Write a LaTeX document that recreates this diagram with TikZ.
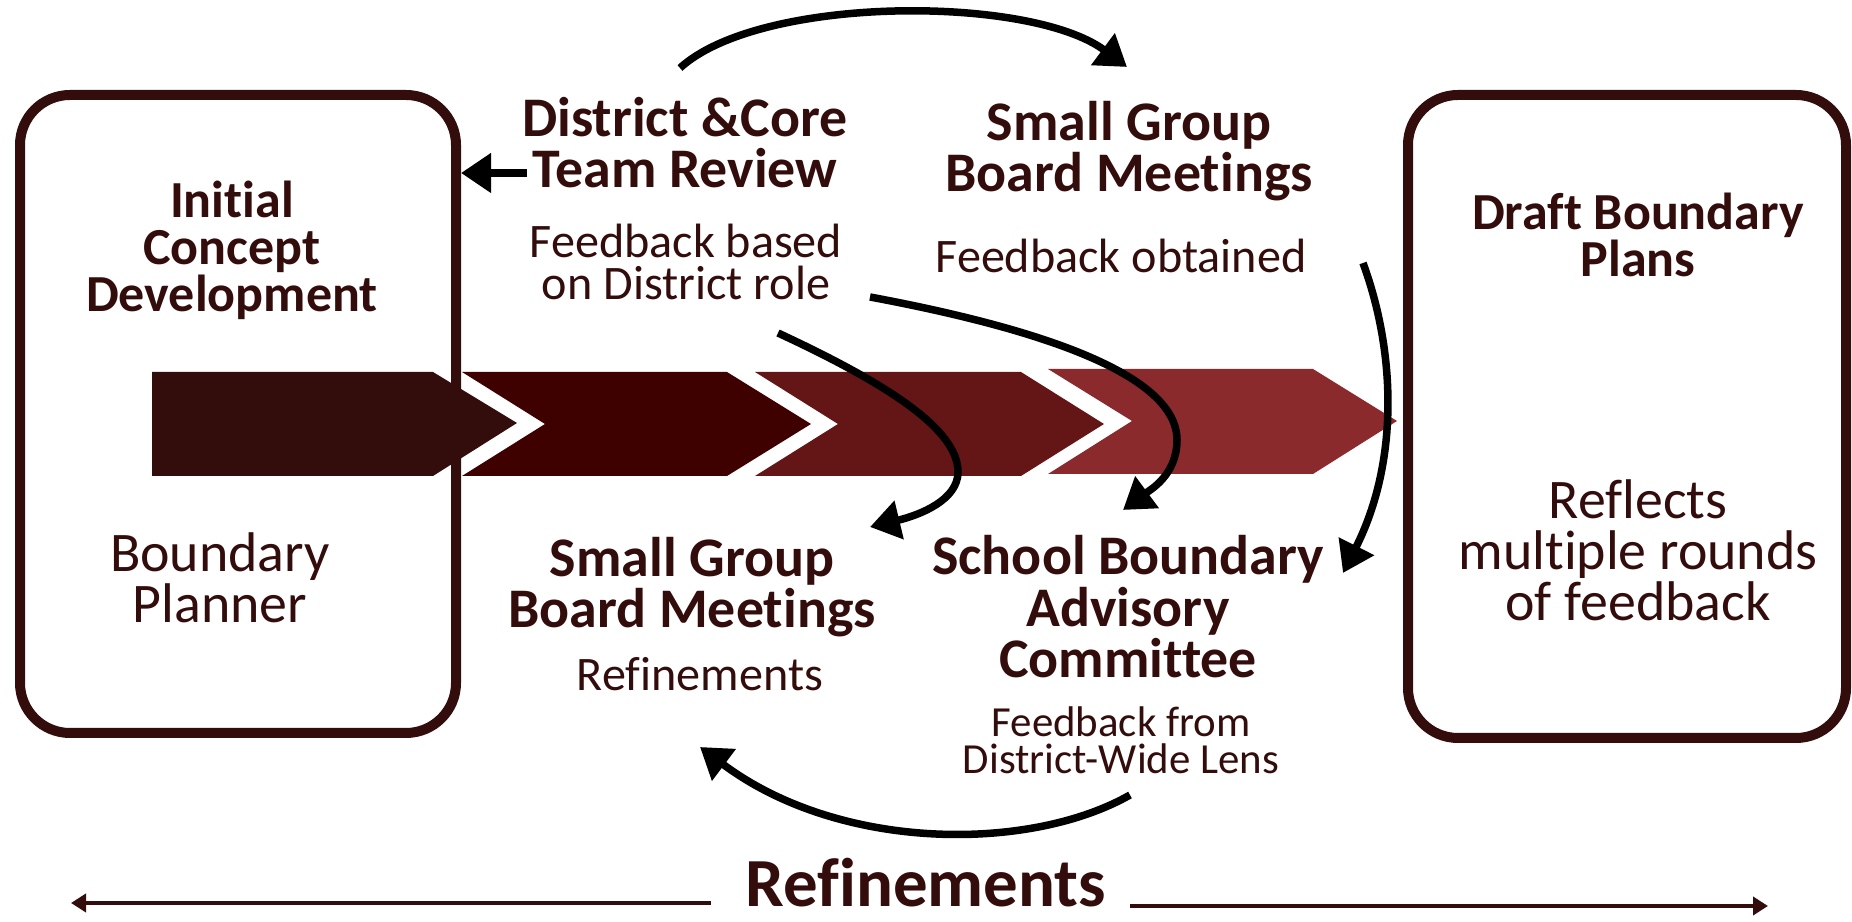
\documentclass[tikz,border=0pt]{standalone}
\usepackage{fontspec}
\setmainfont{Carlito}[Ligatures={NoCommon}]
\usetikzlibrary{arrows.meta}

\definecolor{maroondark}{HTML}{330C0C}
\definecolor{chevA}{HTML}{330C0C}
\definecolor{chevB}{HTML}{3F0000}
\definecolor{chevC}{HTML}{641616}
\definecolor{chevD}{HTML}{8A2A2C}

\begin{document}
\begin{tikzpicture}[
    sidebox/.style={draw=maroondark, line width=0.1cm, rounded corners=0.5cm, inner sep=0pt},
    head/.style={font=\bfseries\fontsize{15.9}{14.7}\selectfont, text=maroondark, align=center, inner sep=0pt, anchor=base},
    boxhead/.style={font=\bfseries\fontsize{14.8}{13.4}\selectfont, text=maroondark, align=center, inner sep=0pt, anchor=base},
    bighead/.style={font=\bfseries\fontsize{19.6}{20}\selectfont, text=maroondark, inner sep=0pt, text depth=0pt, anchor=base},
    note/.style={font=\fontsize{13.7}{12.2}\selectfont, text=maroondark, align=center, inner sep=0pt, anchor=base},
    bignote/.style={font=\fontsize{15.9}{14.6}\selectfont, text=maroondark, align=center, inner sep=0pt, anchor=base},
    smallnote/.style={font=\fontsize{12.2}{10.8}\selectfont, text=maroondark, align=center, inner sep=0pt, anchor=base},
    curvearr/.style={line width=0.075cm, black, -{Triangle[length=0.30cm,width=0.38cm]}},
    thinarr/.style={line width=0.04cm, maroondark, -{Triangle[length=0.15cm,width=0.18cm]}}
  ]
  \path[use as bounding box] (0,0) rectangle (18.52,-9.22);

  % chevron band
  \fill[chevA] (1.52,-3.72) -- (4.33,-3.72) -- (5.17,-4.23) -- (4.33,-4.76) -- (1.52,-4.76) -- cycle;
  \fill[chevB] (4.62,-3.72) -- (7.27,-3.72) -- (8.11,-4.24) -- (7.27,-4.76) -- (4.62,-4.76) -- (5.45,-4.24) -- cycle;
  \fill[chevC] (7.55,-3.72) -- (10.21,-3.72) -- (11.04,-4.24) -- (10.21,-4.76) -- (7.55,-4.76) -- (8.38,-4.24) -- cycle;
  \fill[chevD] (10.48,-3.69) -- (13.13,-3.69) -- (13.97,-4.21) -- (13.13,-4.74) -- (10.48,-4.74) -- (11.32,-4.21) -- cycle;

  % side boxes
  \node[sidebox, minimum width=4.36cm, minimum height=6.38cm] (initbox) at (2.38,-4.14) {};
  \node[sidebox, minimum width=4.38cm, minimum height=6.43cm] (draftbox) at (16.27,-4.165) {};

  \node[boxhead] (initial) at (2.32,-3.12) {Initial\\Concept\\Development};
  \node[bignote] (planner) at (2.20,-6.23) {Boundary\\Planner};
  \node[boxhead] (draft) at (16.38,-2.77) {Draft Boundary\\Plans};
  \node[bignote] (reflects) at (16.38,-6.21) {Reflects\\multiple rounds\\of feedback};

  % steps
  \node[head] (review) at (6.85,-1.88) {District \&Core\\Team Review};
  \node[note] (reviewnote) at (6.86,-3.00) {Feedback based\\on District role};
  \node[head] (sgtop) at (11.29,-1.92) {Small Group\\Board Meetings};
  \node[note] (sgtopnote) at (11.21,-2.73) {Feedback obtained};
  \node[head] (sgbot) at (6.92,-6.28) {Small Group\\Board Meetings};
  \node[note] (sgbotnote) at (7.00,-6.91) {Refinements};
  \node[head] (sbac) at (11.28,-6.78) {School Boundary\\Advisory\\Committee};
  \node[smallnote] (sbacnote) at (11.21,-7.74) {Feedback from\\District-Wide Lens};
  \node[bighead] (refine) at (9.26,-9.07) {Refinements};

  % feedback loops
  \coordinate (revout) at ([shift={(-1.58,0.15)}]review.base);
  \draw[curvearr] (revout) -- (initbox.east |- revout);
  \draw[curvearr] ([shift={(-0.05,1.20)}]review.base) .. controls (7.6,0.05) and (10.3,0.05) .. ([shift={(-0.02,1.25)}]sgtop.base);
  \draw[curvearr] ([shift={(0.92,-0.33)}]reviewnote.base) .. controls (8.9,-3.85) and (9.58,-4.3) .. (9.58,-4.72)
    .. controls (9.58,-5.0) and (9.2,-5.15) .. ([shift={(1.78,1.01)}]sgbot.base);
  \draw[curvearr] ([shift={(1.84,0.03)}]reviewnote.base) .. controls (10.2,-3.25) and (11.77,-3.7) .. (11.77,-4.40)
    .. controls (11.77,-4.75) and (11.5,-4.9) .. ([shift={(-0.05,1.68)}]sbac.base);
  \draw[curvearr] ([shift={(2.42,0.10)}]sgtopnote.base) .. controls (13.95,-3.5) and (14.0,-4.6) .. ([shift={(2.15,1.05)}]sbac.base);
  \draw[curvearr] ([shift={(0.09,-0.21)}]sbacnote.base) .. controls (10.3,-8.52) and (8.4,-8.52) .. ([shift={(0,-0.56)}]sgbotnote.base);

  % refinements axis
  \draw[thinarr] ([shift={(-2.15,0.04)}]refine.base) -- ++(-6.40,0);
  \draw[thinarr] ([shift={(2.04,0.01)}]refine.base) -- ++(6.38,0);
\end{tikzpicture}
\end{document}
